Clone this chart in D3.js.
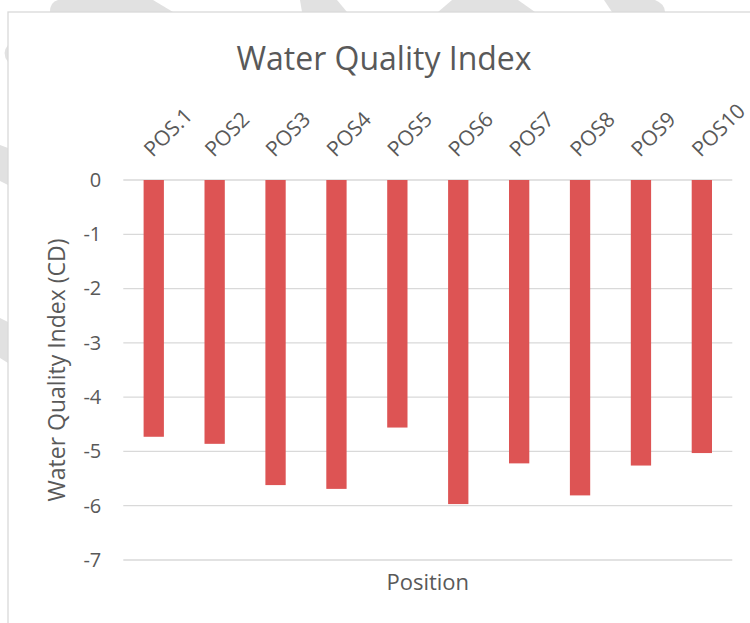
<!DOCTYPE html>
<html>
<head>
<meta charset="utf-8">
<script src="https://cdn.jsdelivr.net/npm/d3@7"></script>
<style>
  body { margin: 0; background: #fff; }
  text { font-family: "Open Sans", "Noto Sans", sans-serif; fill: #595959; }
</style>
</head>
<body>
<svg width="750" height="623"></svg>
<script>
// chart data
var categories = ["POS.1", "POS2", "POS3", "POS4", "POS5", "POS6", "POS7", "POS8", "POS9", "POS10"];
var values = [-4.73, -4.86, -5.62, -5.69, -4.56, -5.97, -5.22, -5.81, -5.26, -5.03];
var yTicks = [0, -1, -2, -3, -4, -5, -6, -7];

var svg = d3.select("svg");

// faint watermark pieces peeking out round the chart frame
var watermark = [
    "M50,12 Q50,2 58,0 L153,0 L173,12 Z",
    "M302,12 L300,0 L337,0 L347,12 Z",
    "M438,12 L452,0 L518,0 L535,12 Z",
    "M612,12 L604,0 L655,0 Q665,4 665,12 Z",
    "M8,45 Q1,53 8,62 Z",
    "M0,145 L8,148 L8,185 L0,181 Z",
    "M0,318 L8,322 L8,363 L0,358 Z"
];
svg.selectAll(".wm")
    .data(watermark)
    .enter()
    .append("path")
    .attr("class", "wm")
    .attr("d", function (d) { return d; })
    .attr("fill", "#e1e1e1");

// chart area
svg.append("rect")
    .attr("x", 8).attr("y", 12)
    .attr("width", 760).attr("height", 640)
    .attr("fill", "#fff")
    .attr("stroke", "#d9d9d9")
    .attr("stroke-width", 1.3);

var x = d3.scaleBand()
    .domain(categories)
    .range([123.3, 732.3])
    .paddingInner(2 / 3)
    .paddingOuter(1 / 3);

var y = d3.scaleLinear()
    .domain([0, -7])
    .range([180, 560]);

// gridlines
svg.append("g")
    .selectAll("line")
    .data(yTicks)
    .enter()
    .append("line")
    .attr("x1", 123.3).attr("x2", 732.3)
    .attr("y1", function (d) { return y(d); })
    .attr("y2", function (d) { return y(d); })
    .attr("stroke", "#d9d9d9")
    .attr("stroke-width", 1.3);

// y axis labels (plain hyphen, like the original)
var yAxis = svg.append("g")
    .attr("transform", "translate(123.3,0)")
    .call(d3.axisLeft(y).tickValues(yTicks).tickSize(0).tickPadding(22)
        .tickFormat(function (d) { return String(d); }));
yAxis.select(".domain").remove();
yAxis.selectAll("text")
    .attr("font-size", "20px")
    .attr("fill", "#595959")
    .style("font-family", "'Open Sans', sans-serif");

// bars
svg.selectAll(".bar")
    .data(values)
    .enter()
    .append("rect")
    .attr("class", "bar")
    .attr("x", function (d, i) { return x(categories[i]); })
    .attr("y", y(0))
    .attr("width", x.bandwidth())
    .attr("height", function (d) { return y(d) - y(0); })
    .attr("fill", "#dd5454");

// category labels on top, rotated
svg.selectAll(".cat")
    .data(categories)
    .enter()
    .append("text")
    .attr("class", "cat")
    .attr("transform", function (d) {
        return "translate(" + (x(d) + x.bandwidth() / 2 - 1) + ",158) rotate(-45)";
    })
    .attr("font-size", "21px")
    .attr("text-anchor", "start")
    .text(function (d) { return d; });

// title
svg.append("text")
    .attr("x", 384).attr("y", 70)
    .attr("text-anchor", "middle")
    .attr("font-size", "32px")
    .text("Water Quality Index");

// axis titles
svg.append("text")
    .attr("transform", "translate(65,370) rotate(-90)")
    .attr("text-anchor", "middle")
    .attr("font-size", "23px")
    .text("Water Quality Index (CD)");

svg.append("text")
    .attr("x", 427.8).attr("y", 590)
    .attr("text-anchor", "middle")
    .attr("font-size", "22px")
    .text("Position");
</script>
</body>
</html>
